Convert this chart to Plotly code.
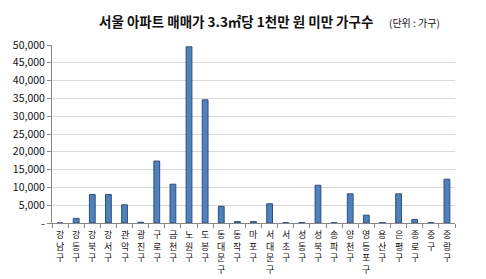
import plotly.graph_objects as go

districts = ["강남구", "강동구", "강북구", "강서구", "관악구", "광진구", "구로구", "금천구",
             "노원구", "도봉구", "동대문구", "동작구", "마포구", "서대문구", "서초구", "성동구",
             "성북구", "송파구", "양천구", "영등포구", "용산구", "은평구", "종로구", "중구", "중랑구"]
households = [0, 1300, 8000, 8000, 5100, 200, 17400, 10900,
              49500, 34600, 4700, 400, 400, 5400, 100, 150,
              10600, 100, 8200, 2200, 100, 8200, 1000, 100, 12300]
y_ticks = [0, 5000, 10000, 15000, 20000, 25000, 30000, 35000, 40000, 45000, 50000]
y_tick_text = ["-"] + [f"{v:,}" for v in y_ticks[1:]]
title_text = "서울 아파트 매매가 3.3㎡당 1천만 원 미만 가구수"
unit_text = "(단위 : 가구)"

FONT = "Noto Sans CJK KR, Malgun Gothic, sans-serif"

W, H = 486, 279
l, r, t, b = 52, 31, 45, 56
pw, ph = W - l - r, H - t - b

fig = go.Figure(go.Bar(
    x=districts, y=households,
    marker=dict(color="#4F81BD", line=dict(color="#2F4F7A", width=1)),
    width=0.36,
))

annotations = [
    dict(text=f"<b>{title_text}</b>", x=(236 - l) / pw, y=(H - b - 21) / ph,
         xref="paper", yref="paper", showarrow=False,
         font=dict(size=13.5, color="#111", family=FONT),
         xanchor="center", yanchor="middle"),
    dict(text=unit_text, x=(414 - l) / pw, y=(H - b - 22) / ph,
         xref="paper", yref="paper", showarrow=False,
         font=dict(size=10, color="#111", family=FONT),
         xanchor="center", yanchor="middle"),
]
# vertical stacked category labels (one character per line)
for d in districts:
    annotations.append(dict(
        text="<br>".join(list(d)), x=d, xref="x", y=0, yref="paper",
        yanchor="top", xanchor="center", yshift=-4, borderpad=0,
        showarrow=False, font=dict(size=9, color="#111", family=FONT),
    ))

fig.update_layout(
    width=W, height=H,
    margin=dict(l=l, r=r, t=t, b=b),
    paper_bgcolor="white", plot_bgcolor="white",
    font=dict(family=FONT, size=10, color="#222"),
    showlegend=False,
    annotations=annotations,
)

fig.update_xaxes(
    type="category", showline=True, linecolor="#888", linewidth=1,
    ticks="outside", ticklen=4, tickcolor="#888", tickson="boundaries",
    showticklabels=False, automargin=False, showgrid=False,
)
fig.update_yaxes(
    range=[0, 50000], tickvals=y_ticks, ticktext=y_tick_text,
    showline=True, linecolor="#888", linewidth=1,
    ticks="outside", ticklen=4, tickcolor="#888",
    showgrid=True, gridcolor="#d9d9d9", gridwidth=1,
    tickfont=dict(size=10.5, color="#111"), automargin=False, zeroline=False,
)

fig.write_html("out.html")
